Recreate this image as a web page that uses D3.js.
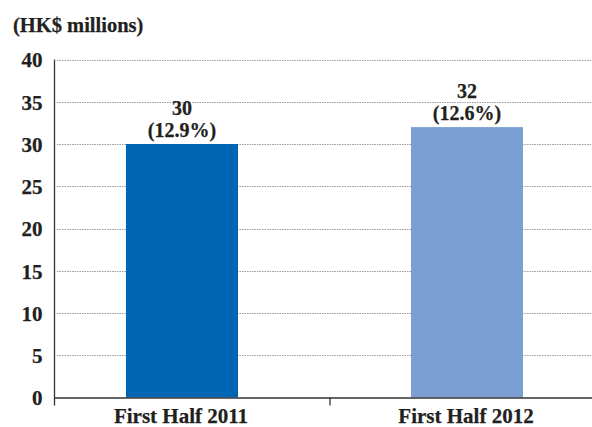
<!DOCTYPE html>
<html>
<head>
<meta charset="utf-8">
<script src="https://cdn.jsdelivr.net/npm/d3@7"></script>
<style>
  html, body { margin: 0; padding: 0; background: #fff; }
  text { font-family: "Liberation Serif", "Times New Roman", serif; font-weight: bold; fill: #231f20; stroke: #231f20; stroke-width: 0.25px; }
</style>
</head>
<body>
<svg id="chart" width="592" height="427"></svg>
<script>
const categories = ["First Half 2011", "First Half 2012"];
const values = [30, 32];
const shares = ["(12.9%)", "(12.6%)"];
const yTicks = [0, 5, 10, 15, 20, 25, 30, 35, 40];
const unitLabel = "(HK$ millions)";
const colors = ["#0065b2", "#7b9fd3"];

const svg = d3.select("#chart");
const mLeft = 54.5, mRight = 592, mTop = 59.5, mBottom = 397.5;

const y = d3.scaleLinear().domain([0, 40]).range([mBottom, mTop]);
const x = d3.scaleBand().domain(categories).range([39.5, 609.5])
  .paddingInner(0.607).paddingOuter(0.3035);

// gridlines
svg.append("g").selectAll("line").data(yTicks.filter(d => d > 0)).join("line")
  .attr("x1", mLeft + 2.5).attr("x2", mRight)
  .attr("y1", d => Math.round(y(d)) + 0.5).attr("y2", d => Math.round(y(d)) + 0.5)
  .attr("stroke", "#9a9a9a").attr("stroke-width", 1).attr("stroke-dasharray", "1.5,1");

// bars
svg.append("g").selectAll("rect").data(values).join("rect")
  .attr("x", (d, i) => x(categories[i]))
  .attr("width", x.bandwidth())
  .attr("y", d => y(d))
  .attr("height", d => mBottom - y(d))
  .attr("fill", (d, i) => colors[i]);

// value labels
const lab = svg.append("g").selectAll("g").data(values).join("g");
lab.append("text")
  .attr("x", (d, i) => x(categories[i]) + x.bandwidth() / 2)
  .attr("y", d => y(d) - 29)
  .attr("text-anchor", "middle").attr("font-size", 20)
  .text(d => d);
lab.append("text")
  .attr("x", (d, i) => x(categories[i]) + x.bandwidth() / 2)
  .attr("y", d => y(d) - 7)
  .attr("text-anchor", "middle").attr("font-size", 20)
  .text((d, i) => shares[i]);

// y axis
const yAxis = d3.axisLeft(y).tickValues(yTicks).tickSize(0).tickPadding(12);
const gy = svg.append("g").attr("transform", `translate(${mLeft},0)`).call(yAxis);
gy.select(".domain").remove();
gy.selectAll("text").attr("font-size", 21).attr("dy", "0.35em");
svg.append("line").attr("x1", mLeft).attr("x2", mLeft).attr("y1", mTop).attr("y2", mBottom + 8)
  .attr("stroke", "#333").attr("stroke-width", 1.3);

// x axis
svg.append("line").attr("x1", mLeft).attr("x2", mRight).attr("y1", mBottom + 0.5).attr("y2", mBottom + 0.5)
  .attr("stroke", "#333").attr("stroke-width", 1.3);
const boundary = (x(categories[0]) + x.bandwidth() + x(categories[1])) / 2 + 5.5;
svg.append("line").attr("x1", boundary).attr("x2", boundary).attr("y1", mBottom).attr("y2", mBottom + 8)
  .attr("stroke", "#333").attr("stroke-width", 1.3);
svg.append("g").selectAll("text").data(categories).join("text")
  .attr("x", d => x(d) + x.bandwidth() / 2 - 1)
  .attr("y", 423)
  .attr("text-anchor", "middle").attr("font-size", 21)
  .text(d => d);

// unit label
svg.append("text").attr("x", 13).attr("y", 32).attr("font-size", 20.5).text(unitLabel);
</script>
</body>
</html>
